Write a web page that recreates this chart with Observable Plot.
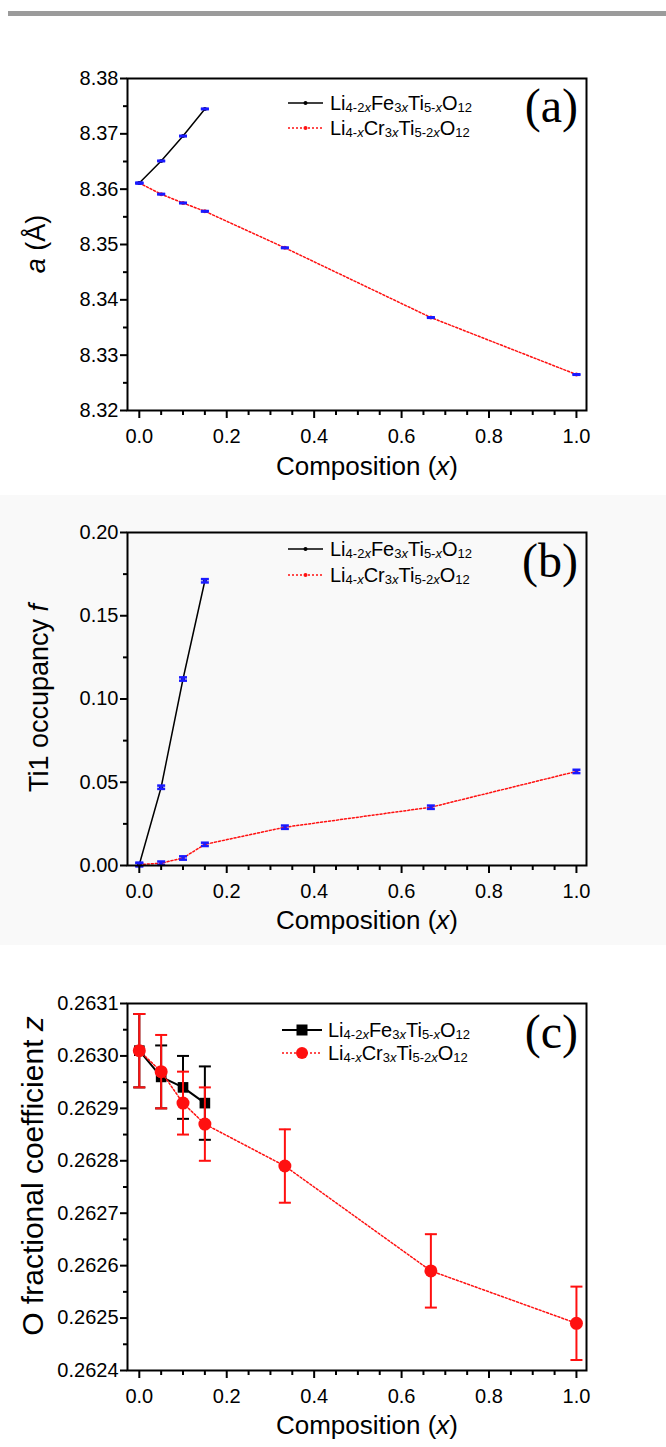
<!DOCTYPE html>
<html><head><meta charset="utf-8">
<script src="https://cdn.jsdelivr.net/npm/d3@7"></script>
<script src="https://cdn.jsdelivr.net/npm/@observablehq/plot@0.6"></script>
<style>
html,body{margin:0;padding:0;background:#fff}
body{width:666px;height:1447px;position:relative;overflow:hidden;font-family:"Liberation Sans",Arial,sans-serif}
.panel{position:absolute;left:0;width:666px}
#bar{position:absolute;left:8px;top:11px;width:658px;height:5px;background:#9b9b9b}
</style></head><body>
<div id="bar"></div>
<div id="pa" class="panel" style="top:40px"></div>
<div id="pb" class="panel" style="top:495px;background:#f9f9f9"></div>
<div id="pc" class="panel" style="top:960px"></div>
<script>
// ---------- data ----------
const compFe = [0, 0.05, 0.10, 0.15];
const compCr = [0, 0.05, 0.10, 0.15, 0.333, 0.667, 1.0];

// (a) lattice parameter a (Å)
const latticeFe = [8.3611, 8.3651, 8.3696, 8.3745];
const latticeFeErr = [0.00005, 0.00005, 0.00005, 0.00005];
const latticeCr = [8.3611, 8.3591, 8.3575, 8.3560, 8.3494, 8.3368, 8.3265];
const latticeCrErr = [0.00005, 0.00005, 0.00005, 0.00005, 0.00005, 0.00005, 0.00005];

// (b) Ti1 occupancy f
const occFe = [0.0006, 0.047, 0.112, 0.171];
const occFeErr = [0.001, 0.001, 0.001, 0.001];
const occCr = [0.0006, 0.0014, 0.0045, 0.0127, 0.0230, 0.0350, 0.0565];
const occCrErr = [0.001, 0.001, 0.001, 0.001, 0.001, 0.001, 0.001];

// (c) O fractional coefficient z
const zFe = [0.26301, 0.26296, 0.26294, 0.26291];
const zFeErr = [0.00007, 0.00006, 0.00006, 0.00007];
const zCr = [0.26301, 0.26297, 0.26291, 0.26287, 0.26279, 0.26259, 0.26249];
const zCrErr = [0.00007, 0.00007, 0.00006, 0.00007, 0.00007, 0.00007, 0.00007];

// ticks
const xMajor = [0, 0.2, 0.4, 0.6, 0.8, 1.0];
const xMinor = [0.05,0.1,0.15,0.25,0.3,0.35,0.45,0.5,0.55,0.65,0.7,0.75,0.85,0.9,0.95];
const aMajor = [8.32, 8.33, 8.34, 8.35, 8.36, 8.37, 8.38];
const aMinor = [8.325, 8.335, 8.345, 8.355, 8.365, 8.375];
const bMajor = [0, 0.05, 0.10, 0.15, 0.20];
const bMinor = [0.025, 0.075, 0.125, 0.175];
const cMajor = [0.2624, 0.2625, 0.2626, 0.2627, 0.2628, 0.2629, 0.2630, 0.2631];
const cMinor = [0.26245, 0.26255, 0.26265, 0.26275, 0.26285, 0.26295, 0.26305];

// legend formula pieces: [text, kind]  n = normal, s = subscript, si = italic subscript
const fFe = [["Li","n"],["4-2","s"],["x","si"],["Fe","n"],["3","s"],["x","si"],["Ti","n"],["5-","s"],["x","si"],["O","n"],["12","s"]];
const fCr = [["Li","n"],["4-","s"],["x","si"],["Cr","n"],["3","s"],["x","si"],["Ti","n"],["5-2","s"],["x","si"],["O","n"],["12","s"]];

// ---------- helpers ----------
const rows = (xs, ys, es) => xs.map((x, i) => ({x, y: ys[i], lo: ys[i] - es[i], hi: ys[i] + es[i]}));
const capSymbol = {draw(ctx, size) { const w = Math.sqrt(size / Math.PI); ctx.moveTo(-w, 0); ctx.lineTo(w, 0); }};
const FONT = "Liberation Sans, Arial, Helvetica, sans-serif";
const BLUE = "#1a1aff", RED = "#ff1010";
const DOTS = "2,2";

function errorBars(data, stroke, half, width) {
  return [
    Plot.ruleX(data, {x: "x", y1: "lo", y2: "hi", stroke, strokeWidth: width}),
    Plot.dot(data, {x: "x", y: "lo", symbol: capSymbol, r: half, stroke, strokeWidth: width, fill: "none"}),
    Plot.dot(data, {x: "x", y: "hi", symbol: capSymbol, r: half, stroke, strokeWidth: width, fill: "none"})
  ];
}

function makePanel(el, {height, mt, mb, yDomain, yMajor, yMinor, yFmt, marks}) {
  const svg = Plot.plot({
    width: 666, height, marginTop: mt, marginBottom: mb, marginLeft: 127, marginRight: 80,
    x: {domain: [-0.027, 1.023]},
    y: {domain: yDomain},
    style: {fontFamily: FONT, color: "black", background: "transparent", overflow: "visible"},
    marks: [
      ...marks,
      Plot.axisX({ticks: xMinor, tickSize: 5, strokeWidth: 2, tickFormat: () => "", label: null}),
      Plot.axisX({ticks: xMajor, tickSize: 8, tickPadding: 10, strokeWidth: 2, tickFormat: d3.format(".1f"), label: null, fontSize: 20}),
      Plot.axisY({ticks: yMinor, tickSize: 4, strokeWidth: 2, tickFormat: () => "", label: null}),
      Plot.axisY({ticks: yMajor, tickSize: 7, tickPadding: 2, strokeWidth: 2, tickFormat: yFmt, label: null, fontSize: 20}),
      Plot.frame({stroke: "black", strokeWidth: 2})
    ]
  });
  document.getElementById(el).appendChild(svg);
  return d3.select(svg);
}

function richText(g, parts, x, y, size, subSize) {
  const t = g.append("text").attr("x", x).attr("y", y).attr("text-anchor", "start")
    .attr("font-family", FONT).attr("font-size", size).attr("fill", "black");
  let off = 0;
  for (const [s, k] of parts) {
    const target = k === "n" ? 0 : 2;
    const ts = t.append("tspan").attr("dy", target - off).text(s);
    off = target;
    if (k !== "n") ts.attr("font-size", subSize);
    if (k === "si") ts.attr("font-style", "italic");
  }
  return t;
}

function legend(svg, {y1, y2, x0, x1, tx, fe, cr, letter, letterY}) {
  const g = svg.append("g").attr("text-anchor", "start");
  g.append("line").attr("x1", x0).attr("x2", x1).attr("y1", y1).attr("y2", y1).attr("stroke", "black").attr("stroke-width", fe.lw);
  fe.marker(g, (x0 + x1) / 2, y1);
  richText(g, fFe, tx, y1 + 7, 20, 13);
  g.append("line").attr("x1", x0).attr("x2", x1).attr("y1", y2).attr("y2", y2).attr("stroke", RED).attr("stroke-width", 1.5).attr("stroke-dasharray", DOTS);
  cr.marker(g, (x0 + x1) / 2, y2);
  richText(g, fCr, tx, y2 + 7, 20, 13);
  g.append("text").attr("x", 578).attr("y", letterY).attr("text-anchor", "end")
    .attr("font-family", "Liberation Serif, Times New Roman, serif").attr("font-size", 48).text(letter);
}

function xTitle(svg, y) {
  const t = svg.append("text").attr("x", 367).attr("y", y).attr("text-anchor", "middle")
    .attr("font-family", FONT).attr("font-size", 26);
  t.append("tspan").text("Composition (");
  t.append("tspan").attr("font-style", "italic").text("x");
  t.append("tspan").text(")");
}

function yTitle(svg, x, cy, parts, size) {
  const t = svg.append("text").attr("transform", `translate(${x},${cy}) rotate(-90)`).attr("text-anchor", "middle")
    .attr("font-family", FONT).attr("font-size", size);
  for (const [s, it] of parts) { const ts = t.append("tspan").text(s); if (it) ts.attr("font-style", "italic"); }
}

const smallDot = color => (g, x, y) => g.append("circle").attr("cx", x).attr("cy", y).attr("r", 2).attr("fill", color);

// ---------- panel (a) ----------
{
  const fe = rows(compFe, latticeFe, latticeFeErr), cr = rows(compCr, latticeCr, latticeCrErr);
  const svg = makePanel("pa", {
    height: 440, mt: 38, mb: 70, yDomain: [8.32, 8.38], yMajor: aMajor, yMinor: aMinor, yFmt: d3.format(".2f"),
    marks: [
      Plot.line(cr, {x: "x", y: "y", stroke: RED, strokeWidth: 1.5, strokeDasharray: DOTS}),
      Plot.line(fe, {x: "x", y: "y", stroke: "black", strokeWidth: 1.5}),
      Plot.dot(cr, {x: "x", y: "y", r: 2, fill: RED}),
      Plot.dot(fe, {x: "x", y: "y", r: 2, fill: "black"}),
      ...errorBars(cr, BLUE, 4, 2.5),
      ...errorBars(fe, BLUE, 4, 2.5)
    ]
  });
  legend(svg, {y1: 63, y2: 88, x0: 288, x1: 323, tx: 330, fe: {lw: 1.5, marker: smallDot("black")}, cr: {marker: smallDot(RED)}, letter: "(a)", letterY: 82});
  xTitle(svg, 435);
  yTitle(svg, 45, 204, [["a", true], [" (Å)", false]], 27);
}

// ---------- panel (b) ----------
{
  const fe = rows(compFe, occFe, occFeErr), cr = rows(compCr, occCr, occCrErr);
  const svg = makePanel("pb", {
    height: 450, mt: 37, mb: 80, yDomain: [0, 0.20], yMajor: bMajor, yMinor: bMinor, yFmt: d3.format(".2f"),
    marks: [
      Plot.line(cr, {x: "x", y: "y", stroke: RED, strokeWidth: 1.5, strokeDasharray: DOTS}),
      Plot.line(fe, {x: "x", y: "y", stroke: "black", strokeWidth: 1.5}),
      Plot.dot(cr, {x: "x", y: "y", r: 2, fill: RED}),
      Plot.dot(fe, {x: "x", y: "y", r: 2, fill: "black"}),
      ...errorBars(cr, BLUE, 4, 2.5),
      ...errorBars(fe, BLUE, 4, 2.5)
    ]
  });
  legend(svg, {y1: 54, y2: 80, x0: 288, x1: 323, tx: 330, fe: {lw: 1.5, marker: smallDot("black")}, cr: {marker: smallDot(RED)}, letter: "(b)", letterY: 82});
  xTitle(svg, 434);
  yTitle(svg, 48, 203, [["Ti1 occupancy ", false], ["f", true]], 27);
}

// ---------- panel (c) ----------
{
  const fe = rows(compFe, zFe, zFeErr), cr = rows(compCr, zCr, zCrErr);
  const svg = makePanel("pc", {
    height: 487, mt: 43, mb: 77, yDomain: [0.2624, 0.2631], yMajor: cMajor, yMinor: cMinor, yFmt: d3.format(".4f"),
    marks: [
      ...errorBars(fe, "black", 6, 2),
      Plot.line(fe, {x: "x", y: "y", stroke: "black", strokeWidth: 2}),
      Plot.dot(fe, {x: "x", y: "y", symbol: "square", r: 6, fill: "black"}),
      ...errorBars(cr, RED, 6, 2),
      Plot.line(cr, {x: "x", y: "y", stroke: RED, strokeWidth: 1.5, strokeDasharray: DOTS}),
      Plot.dot(cr, {x: "x", y: "y", r: 6.5, fill: RED})
    ]
  });
  legend(svg, {y1: 70, y2: 93, x0: 282, x1: 322, tx: 328,
    fe: {lw: 2, marker: (g, x, y) => g.append("rect").attr("x", x - 5.5).attr("y", y - 5.5).attr("width", 11).attr("height", 11).attr("fill", "black")},
    cr: {marker: (g, x, y) => g.append("circle").attr("cx", x).attr("cy", y).attr("r", 6).attr("fill", RED)},
    letter: "(c)", letterY: 88});
  xTitle(svg, 474);
  yTitle(svg, 43, 216, [["O fractional coefficient ", false], ["z", true]], 30);
}
</script>
</body></html>
